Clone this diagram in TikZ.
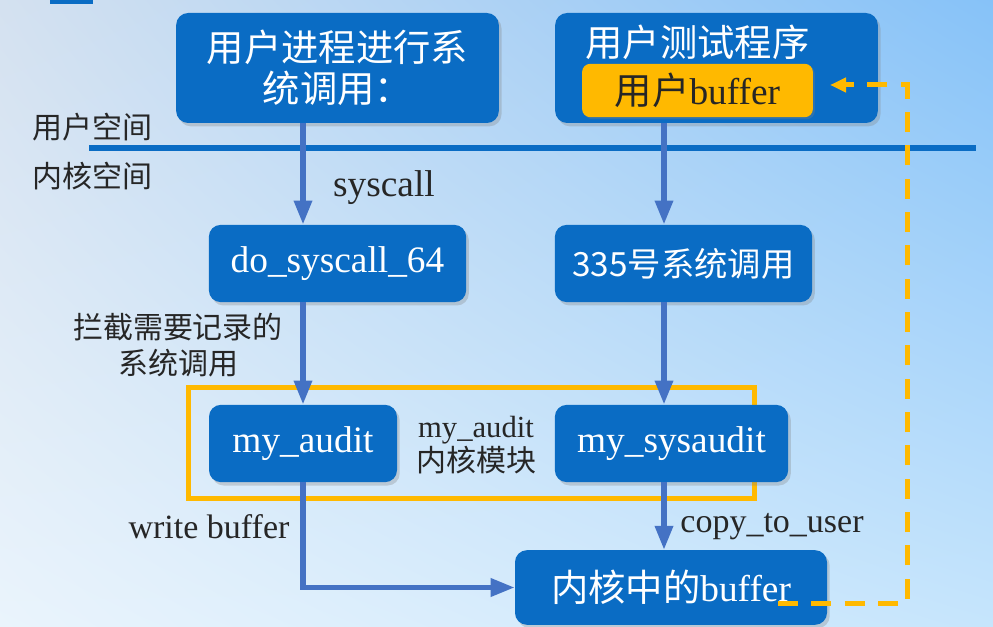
\documentclass[tikz,border=0pt]{standalone}
\usepackage{fontspec}
\setmainfont{Liberation Serif}
\newfontfamily\cjk{Noto Sans CJK SC}
\usetikzlibrary{
  arrows.meta,
  shadows,
  shadings,
  positioning
}
\definecolor{boxblue}{HTML}{0A6CC4}
\definecolor{flowblue}{HTML}{4472C4}
\definecolor{gold}{HTML}{FFB900}
\definecolor{labelgray}{HTML}{262626}
\definecolor{bgUL}{RGB}{212,225,240}
\definecolor{bgUR}{RGB}{134,194,248}
\definecolor{bgLL}{RGB}{234,244,252}
\definecolor{bgLR}{RGB}{198,229,252}
\tikzset{
  >={Triangle[width=13pt,length=18pt]},
  blk/.style={fill=boxblue, rounded corners=9pt, text=white, inner sep=0pt,
    drop shadow={shadow xshift=2pt, shadow yshift=-2.5pt, opacity=0.3}},
  big/.style={font=\fontsize{28}{31}\selectfont},
  side/.style={text=labelgray, align=center},
  flow/.style={->, draw=flowblue, line width=4pt},
  back/.style={draw=gold, line width=3.75pt, dash pattern=on 15pt off 10pt,
    -{Triangle[width=10.5pt,length=12pt]}}
}

\begin{document}
\begin{tikzpicture}[x=0.75pt, y=-0.75pt]
    \useasboundingbox (0,0) rectangle (993,627);
    \shade[upper left=bgUL, upper right=bgUR, lower left=bgLL, lower right=bgLR]
      (0,0) rectangle (993,627);
    \fill[boxblue] (50,-10) rectangle (93,4);

    % user space / kernel space
    \coordinate (divL) at (89,148);
    \coordinate (divR) at (976,148);
    \draw[boxblue, line width=4.5pt] (divL) -- (divR);
    \node[side, font=\cjk\fontsize{22.5}{26}\selectfont] (usr) at (92,127) {用户空间};
    \node[side, font=\cjk\fontsize{22.5}{26}\selectfont] (kern) at (92,176) {内核空间};

    % module frame
    \node[draw=gold, line width=3.75pt, minimum width=424.5pt, minimum height=82.5pt] (module) at (471,443) {};

    \node[blk, font=\cjk\fontsize{28}{31}\selectfont, align=center, minimum width=242pt, minimum height=82.5pt] (proc) at (337.5,68) {用户进程进行系\\统调用：};
    \node[blk, minimum width=242pt, minimum height=82.5pt] (test) at (716.5,68) {};
    \node[big, text=white] (testname) at (697.5,42) {\cjk 用户测试程序};
    \node[fill=gold, rounded corners=6pt, text=black!85, big, minimum width=173pt, minimum height=40pt,
      drop shadow={shadow xshift=1.5pt, shadow yshift=-1.5pt, opacity=0.3}] (ubuf) at (697.5,90.5) {{\cjk 用户}buffer};

    \node[blk, big, minimum width=193pt, minimum height=58pt] (dosys) at (337.5,263.5) {do\_syscall\_64};
    \node[blk, font=\cjk\fontsize{25}{28}\selectfont, minimum width=193pt, minimum height=58pt] (sys335) at (683.5,263.5) {335号系统调用};

    \node[blk, big, minimum width=141pt, minimum height=58pt] (myaudit) at (303,443.5) {my\_audit};
    \node[blk, big, minimum width=175pt, minimum height=58pt] (mysys) at (671.5,443.5) {my\_sysaudit};
    \node[side, font=\fontsize{23}{26}\selectfont] (modname) at (476,445) {my\_audit\\{\cjk\fontsize{22.5}{26}\selectfont 内核模块}};

    \node[blk, big, minimum width=234pt, minimum height=56pt] (kbuf) at (671,587.5) {{\cjk 内核中的}buffer};

    % edge labels
    \node[side, big] (sc) at (384,188) {syscall};
    \node[side, font=\cjk\fontsize{22.5}{27}\selectfont] (catch) at (178,345) {拦截需要记录的\\系统调用};
    \node[side, font=\fontsize{25.5}{28}\selectfont] (wb) at (209,527) {write buffer};
    \node[side, font=\fontsize{25.5}{28}\selectfont] (ctu) at (772,527) {copy\_to\_user};

    % flows
    \coordinate (rx) at (664,0);
    \draw[flow] (proc.south -| myaudit) -- (dosys.north -| myaudit);
    \draw[flow] (dosys.south -| myaudit) -- (myaudit.north);
    \draw[flow] (test.south -| rx) -- (sys335.north -| rx);
    \draw[flow] (sys335.south -| rx) -- (mysys.north -| rx);
    \draw[flow] (mysys.south -| rx) -- (kbuf.north -| rx);
    \draw[flow] (myaudit.south) |- (kbuf.west);

    % copy back to user
    \coordinate (dstart) at (778,603);
    \coordinate (dturn) at (907,85);
    \coordinate (dend) at (830,85);
    \draw[back] (dstart) -| (dturn) -- (dend);
\end{tikzpicture}
\end{document}
